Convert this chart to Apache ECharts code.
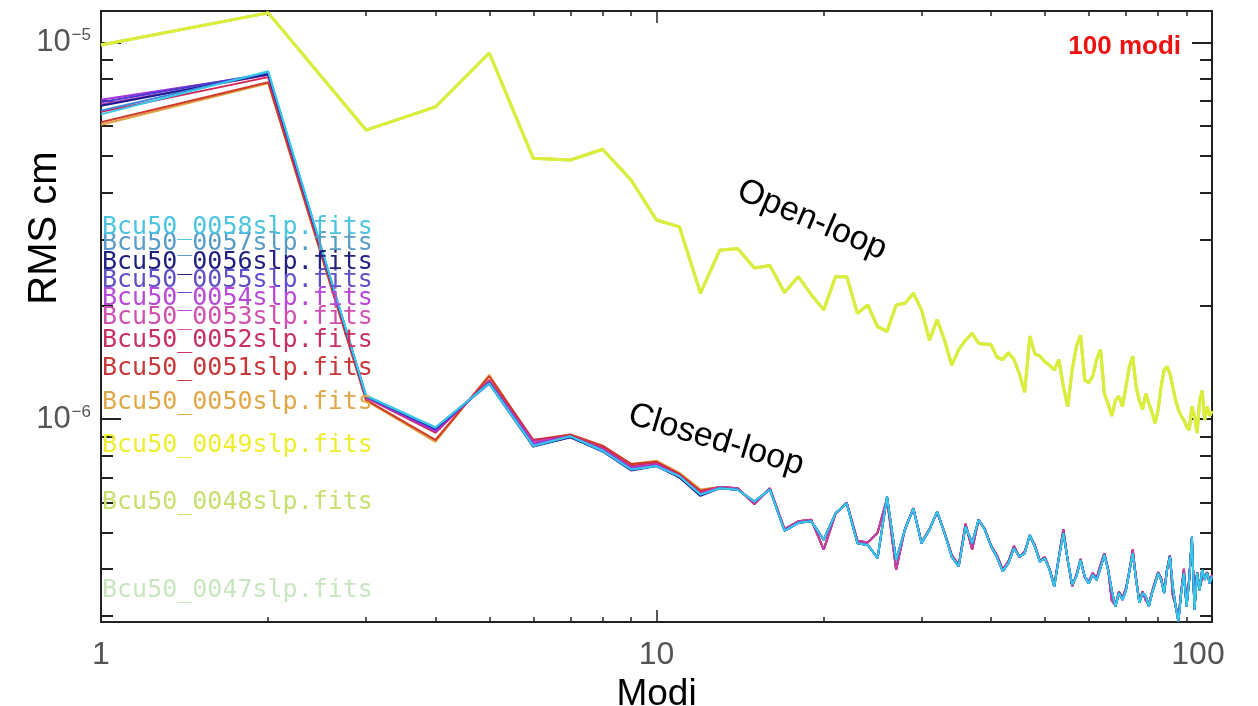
<!DOCTYPE html>
<html><head><meta charset="utf-8">
<script src="https://cdn.jsdelivr.net/npm/echarts@6/dist/echarts.min.js"></script>
<style>html,body{margin:0;padding:0;background:#fff}#c{width:1258px;height:706px}</style>
</head><body><div id="c"></div>
<script>
// ---------- axis data ----------
const xTickValues = [1, 10, 100];
const xTickLabels = ['1', '10', '100'];
const xMinorTicks = [2, 3, 4, 5, 6, 7, 8, 9, 20, 30, 40, 50, 60, 70, 80, 90];
const yTickValues = [1e-6, 1e-5];
const yTickExponents = ['−6', '−5'];
const yMinorTicks = [3e-7, 4e-7, 5e-7, 6e-7, 7e-7, 8e-7, 9e-7, 2e-6, 3e-6, 4e-6, 5e-6, 6e-6, 7e-6, 8e-6, 9e-6];
const xMin = 1, xMax = 100, yMin = 2.89e-7, yMax = 1.214e-5;

// ---------- series data (RMS per mode, modes 1..100) ----------
const openLoop = [
  9.86e-6, 1.20e-5, 5.86e-6, 6.75e-6, 9.39e-6, 4.93e-6, 4.88e-6, 5.21e-6, 4.32e-6, 3.38e-6,
  3.24e-6, 2.16e-6, 2.81e-6, 2.84e-6, 2.52e-6, 2.56e-6, 2.17e-6, 2.39e-6, 2.14e-6, 1.95e-6,
  2.39e-6, 2.39e-6, 1.91e-6, 2.01e-6, 1.76e-6, 1.71e-6, 2.01e-6, 2.03e-6, 2.16e-6, 1.95e-6,
  1.62e-6, 1.84e-6, 1.62e-6, 1.39e-6, 1.53e-6, 1.62e-6, 1.69e-6, 1.59e-6, 1.58e-6, 1.58e-6,
  1.46e-6, 1.44e-6, 1.50e-6, 1.44e-6, 1.32e-6, 1.18e-6, 1.66e-6, 1.49e-6, 1.47e-6, 1.42e-6,
  1.39e-6, 1.35e-6, 1.44e-6, 1.22e-6, 1.08e-6, 1.35e-6, 1.56e-6, 1.67e-6, 1.27e-6, 1.25e-6,
  1.30e-6, 1.44e-6, 1.53e-6, 1.17e-6, 1.10e-6, 1.02e-6, 1.12e-6, 1.15e-6, 1.08e-6, 1.22e-6,
  1.38e-6, 1.47e-6, 1.22e-6, 1.12e-6, 1.06e-6, 1.17e-6, 1.10e-6, 1.04e-6, 9.75e-7, 1.06e-6,
  1.22e-6, 1.35e-6, 1.38e-6, 1.32e-6, 1.22e-6, 1.12e-6, 1.06e-6, 1.02e-6, 9.95e-7, 9.55e-7,
  9.35e-7, 1.08e-6, 1.02e-6, 9.18e-7, 1.12e-6, 1.19e-6, 9.95e-7, 1.08e-6, 1.02e-6, 1.05e-6
];
// closed-loop, modes 13..100 (cool-coloured runs)
const closedTailCool = [
  6.55e-7, 6.49e-7, 6.04e-7, 6.50e-7, 5.05e-7, 5.30e-7, 5.35e-7, 4.78e-7,
  5.62e-7, 5.98e-7, 4.68e-7, 4.63e-7, 4.27e-7, 6.22e-7, 4.22e-7, 5.08e-7, 5.79e-7, 4.68e-7,
  5.08e-7, 5.68e-7, 4.98e-7, 4.31e-7, 4.06e-7, 5.18e-7, 4.68e-7, 5.40e-7, 5.08e-7, 4.60e-7,
  4.30e-7, 3.94e-7, 4.14e-7, 4.54e-7, 4.31e-7, 4.40e-7, 4.92e-7, 4.58e-7, 4.18e-7, 4.27e-7,
  3.98e-7, 3.59e-7, 4.27e-7, 4.98e-7, 4.22e-7, 3.63e-7, 3.82e-7, 4.22e-7, 3.82e-7, 3.66e-7,
  3.86e-7, 3.74e-7, 4.02e-7, 4.36e-7, 3.98e-7, 3.51e-7, 3.18e-7, 3.45e-7, 3.31e-7, 3.51e-7,
  3.94e-7, 4.40e-7, 3.74e-7, 3.25e-7, 3.45e-7, 3.38e-7, 3.18e-7, 3.45e-7, 3.66e-7, 3.90e-7,
  3.74e-7, 3.45e-7, 3.98e-7, 4.31e-7, 3.59e-7, 3.18e-7, 2.90e-7, 3.45e-7, 3.90e-7, 3.18e-7,
  3.74e-7, 4.87e-7, 3.11e-7, 3.90e-7, 3.51e-7, 3.98e-7, 3.74e-7, 3.90e-7, 3.66e-7, 3.82e-7
];
// closed-loop, modes 13..100 (warm-coloured runs)
const closedTailWarm = [
  6.60e-7, 6.55e-7, 5.95e-7, 6.55e-7, 5.10e-7, 5.35e-7, 5.40e-7, 4.50e-7,
  5.60e-7, 6.00e-7, 4.75e-7, 4.70e-7, 4.99e-7, 6.15e-7, 3.98e-7, 5.10e-7, 5.80e-7, 4.70e-7,
  5.10e-7, 5.65e-7, 5.00e-7, 4.35e-7, 4.10e-7, 5.27e-7, 4.50e-7, 5.40e-7, 5.10e-7, 4.62e-7,
  4.35e-7, 3.98e-7, 4.18e-7, 4.60e-7, 4.30e-7, 4.45e-7, 4.90e-7, 4.62e-7, 4.20e-7, 4.30e-7,
  4.00e-7, 3.62e-7, 4.30e-7, 5.10e-7, 4.20e-7, 3.60e-7, 3.85e-7, 4.25e-7, 3.80e-7, 3.70e-7,
  3.90e-7, 3.78e-7, 4.10e-7, 4.40e-7, 4.00e-7, 3.30e-7, 3.20e-7, 3.48e-7, 3.35e-7, 3.55e-7,
  3.95e-7, 4.50e-7, 3.78e-7, 3.28e-7, 3.48e-7, 3.30e-7, 3.22e-7, 3.48e-7, 3.70e-7, 3.92e-7,
  3.78e-7, 3.48e-7, 4.00e-7, 4.35e-7, 3.40e-7, 3.20e-7, 2.95e-7, 3.48e-7, 4.00e-7, 3.22e-7,
  3.78e-7, 4.80e-7, 3.15e-7, 3.92e-7, 3.55e-7, 3.80e-7, 3.78e-7, 3.92e-7, 3.70e-7, 3.85e-7
];
// closed-loop, modes 1..12, one per run
const head0050 = [6.05e-6, 7.80e-6, 1.120e-6, 8.70e-7, 1.31e-6, 8.75e-7, 9.05e-7, 8.45e-7, 7.60e-7, 7.75e-7, 7.20e-7, 6.50e-7];
const head0051 = [6.15e-6, 7.85e-6, 1.125e-6, 8.80e-7, 1.30e-6, 8.80e-7, 9.10e-7, 8.50e-7, 7.60e-7, 7.70e-7, 7.15e-7, 6.45e-7];
const head0052 = [6.55e-6, 8.10e-6, 1.140e-6, 9.20e-7, 1.27e-6, 8.80e-7, 9.00e-7, 8.40e-7, 7.50e-7, 7.65e-7, 7.10e-7, 6.40e-7];
const head0053 = [6.85e-6, 8.20e-6, 1.140e-6, 9.30e-7, 1.26e-6, 8.70e-7, 9.00e-7, 8.35e-7, 7.45e-7, 7.60e-7, 7.05e-7, 6.35e-7];
const head0054 = [7.05e-6, 8.25e-6, 1.145e-6, 9.30e-7, 1.25e-6, 8.60e-7, 9.00e-7, 8.30e-7, 7.40e-7, 7.55e-7, 7.05e-7, 6.30e-7];
const head0055 = [6.95e-6, 8.30e-6, 1.150e-6, 9.40e-7, 1.25e-6, 8.50e-7, 8.95e-7, 8.25e-7, 7.35e-7, 7.50e-7, 7.00e-7, 6.30e-7];
const head0056 = [6.80e-6, 8.25e-6, 1.150e-6, 9.45e-7, 1.245e-6, 8.45e-7, 8.95e-7, 8.20e-7, 7.30e-7, 7.50e-7, 7.00e-7, 6.25e-7];
const head0057 = [6.60e-6, 8.35e-6, 1.150e-6, 9.50e-7, 1.24e-6, 8.45e-7, 9.00e-7, 8.20e-7, 7.35e-7, 7.50e-7, 7.05e-7, 6.30e-7];
const head0058 = [6.45e-6, 8.40e-6, 1.155e-6, 9.50e-7, 1.245e-6, 8.50e-7, 9.00e-7, 8.25e-7, 7.35e-7, 7.50e-7, 7.05e-7, 6.30e-7];

const runNames = ['Bcu50_0047slp.fits','Bcu50_0048slp.fits','Bcu50_0049slp.fits','Bcu50_0050slp.fits',
  'Bcu50_0051slp.fits','Bcu50_0052slp.fits','Bcu50_0053slp.fits','Bcu50_0054slp.fits','Bcu50_0055slp.fits',
  'Bcu50_0056slp.fits','Bcu50_0057slp.fits','Bcu50_0058slp.fits'];
const runValues = [
  openLoop, openLoop, openLoop,
  head0050.concat(closedTailWarm), head0051.concat(closedTailWarm), head0052.concat(closedTailWarm),
  head0053.concat(closedTailWarm), head0054.concat(closedTailCool), head0055.concat(closedTailCool),
  head0056.concat(closedTailCool), head0057.concat(closedTailCool), head0058.concat(closedTailCool)
];

// ---------- styles / layout ----------
const lineColors = ['#c4e6b4','#cce860','#dcee3c','#e0a040','#d03a2a','#d02454','#c040b0','#a030e0','#4a3ad0','#1a1a90','#3a84dc','#38c8e8'];
const textColors = ['#c8e6c0','#c8e070','#eeee30','#e0a848','#c83838','#c83060','#d050b0','#b848d8','#6050c8','#202080','#5a9cc8','#4cc4e0'];
const legendY = [590, 502, 445, 402, 368, 340, 317, 298, 280, 262, 243, 227];

const FONT = '"Liberation Sans", Arial, sans-serif';
const AX = '#222';

function findIdx(arr, v) { return arr.findIndex(t => Math.abs(t - v) / t < 1e-6); }

function xAxisDef(pos, major, labels) {
  return {
    type: 'log', logBase: 10, position: pos, min: xMin, max: xMax, gridIndex: 0,
    axisLine: { show: major, onZero: false, lineStyle: { color: AX, width: 2 } },
    axisTick: { show: true, inside: true, length: major ? 12 : 5,
      customValues: major ? xTickValues : xMinorTicks, lineStyle: { color: AX, width: 1.5 } },
    minorTick: { show: false },
    splitLine: { show: false },
    axisLabel: labels ? {
      show: true, customValues: xTickValues, margin: 17,
      color: '#555', fontFamily: FONT, fontSize: 32,
      formatter: v => {
        const i = findIdx(xTickValues, v);
        if (i < 0) return '';
        return i === xTickValues.length - 1 ? '{m|' + xTickLabels[i] + '}' : xTickLabels[i];
      },
      rich: { m: { color: '#555', fontFamily: FONT, fontSize: 32, padding: [0, 28, 0, 0] } }
    } : { show: false },
    name: labels ? 'Modi' : '', nameLocation: 'middle', nameGap: 40,
    nameTextStyle: { color: '#000', fontFamily: FONT, fontSize: 37 }
  };
}
function yAxisDef(pos, major, labels) {
  return {
    type: 'log', logBase: 10, position: pos, min: yMin, max: yMax, gridIndex: 0,
    axisLine: { show: major, onZero: false, lineStyle: { color: AX, width: 2 } },
    axisTick: { show: true, inside: true, length: major ? 20 : 12,
      customValues: major ? yTickValues : yMinorTicks, lineStyle: { color: AX, width: 2 } },
    minorTick: { show: false },
    splitLine: { show: false },
    axisLabel: labels ? {
      show: true, customValues: yTickValues, margin: 10,
      formatter: v => {
        const i = findIdx(yTickValues, v);
        return i < 0 ? '' : '{b|10}{s|' + yTickExponents[i] + '}';
      },
      rich: {
        b: { color: '#555', fontFamily: FONT, fontSize: 31 },
        s: { color: '#555', fontFamily: FONT, fontSize: 17, verticalAlign: 'top', padding: [0, 0, 0, 1] }
      }
    } : { show: false }
  };
}

const modes = openLoop.map((_, i) => i + 1);

const series = runNames.map((name, k) => ({
  name, type: 'line', xAxisIndex: 0, yAxisIndex: 0,
  data: runValues[k].map((v, i) => [modes[i], v]),
  showSymbol: false, symbol: 'none', silent: true, animation: false,
  lineStyle: { color: lineColors[k], width: k < 3 ? 3 : 2 },
  itemStyle: { color: lineColors[k] }, z: 2 + k
}));

const graphics = runNames.map((name, k) => ({
  type: 'text', x: 102, y: legendY[k], z: 50,
  style: { text: name, fill: textColors[k], font: '25px "DejaVu Sans Mono", monospace',
    textAlign: 'left', textVerticalAlign: 'middle' }
}));
graphics.push(
  { type: 'text', x: 45, y: 228, rotation: Math.PI / 2, z: 50,
    style: { text: 'RMS cm', fill: '#000', font: '40px ' + FONT, textAlign: 'center', textVerticalAlign: 'middle' } },
  { type: 'text', x: 812, y: 220, rotation: -0.40, z: 50,
    style: { text: 'Open-loop', fill: '#000', font: '34px ' + FONT, textAlign: 'center', textVerticalAlign: 'middle' } },
  { type: 'text', x: 716, y: 440, rotation: -0.29, z: 50,
    style: { text: 'Closed-loop', fill: '#000', font: '34px ' + FONT, textAlign: 'center', textVerticalAlign: 'middle' } },
  { type: 'text', x: 1181, y: 47, z: 50,
    style: { text: '100 modi', fill: '#ee1111', font: 'bold 26px ' + FONT, textAlign: 'right', textVerticalAlign: 'middle' } }
);

const chart = echarts.init(document.getElementById('c'), null, { renderer: 'canvas' });
chart.setOption({
  backgroundColor: '#fff',
  animation: false,
  grid: { left: 101, top: 11, right: 46, bottom: 84, containLabel: false, outerBoundsMode: 'none' },
  xAxis: [xAxisDef('bottom', true, true), xAxisDef('bottom', false, false), xAxisDef('top', true, false), xAxisDef('top', false, false)],
  yAxis: [yAxisDef('left', true, true), yAxisDef('left', false, false), yAxisDef('right', true, false), yAxisDef('right', false, false)],
  series,
  graphic: graphics
});
</script>
</body></html>
